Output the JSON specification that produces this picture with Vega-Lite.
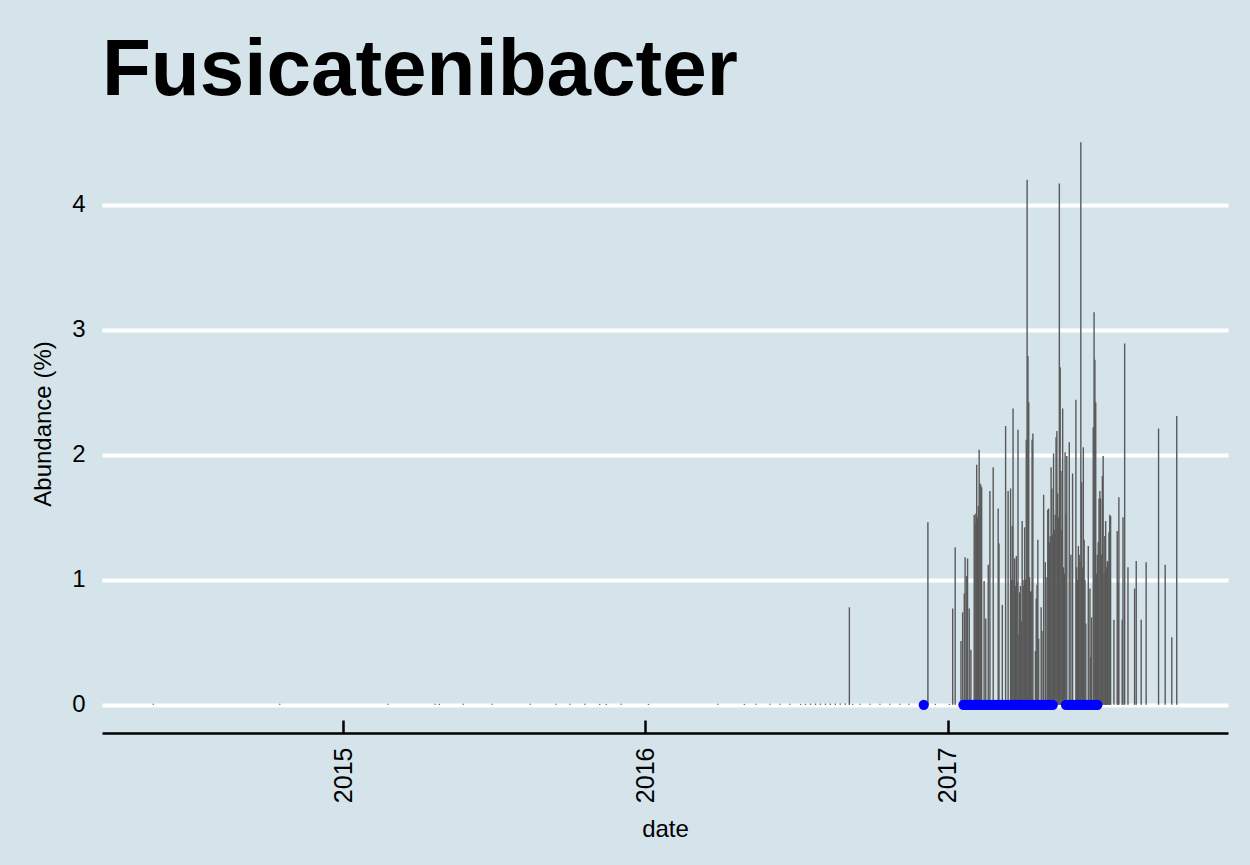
{
  "$schema": "https://vega.github.io/schema/vega-lite/v6.json",
  "width": 1126,
  "height": 619,
  "autosize": "none",
  "padding": {"left": 102, "top": 114, "right": 22, "bottom": 132},
  "background": "#d5e4eb",
  "title": {"text": "Fusicatenibacter", "anchor": "start", "frame": "group", "fontSize": 80, "fontWeight": "bold", "font": "Liberation Sans", "color": "#000000", "baseline": "alphabetic", "offset": -61},
  "config": {
    "view": {"stroke": null, "fill": "#d5e4eb"},
    "font": "Liberation Sans"
  },
  "datasets": {
    "bars": [
      {"date": "2014-05-16", "abundance": 0.008},
      {"date": "2014-10-16", "abundance": 0.008},
      {"date": "2015-02-24", "abundance": 0.008},
      {"date": "2015-04-22", "abundance": 0.008},
      {"date": "2015-04-27", "abundance": 0.008},
      {"date": "2015-05-26", "abundance": 0.008},
      {"date": "2015-06-30", "abundance": 0.008},
      {"date": "2015-08-15", "abundance": 0.008},
      {"date": "2015-09-15", "abundance": 0.008},
      {"date": "2015-10-02", "abundance": 0.008},
      {"date": "2015-10-20", "abundance": 0.008},
      {"date": "2015-11-07", "abundance": 0.008},
      {"date": "2015-11-15", "abundance": 0.008},
      {"date": "2015-12-03", "abundance": 0.008},
      {"date": "2016-01-05", "abundance": 0.008},
      {"date": "2016-03-29", "abundance": 0.008},
      {"date": "2016-04-30", "abundance": 0.008},
      {"date": "2016-05-14", "abundance": 0.008},
      {"date": "2016-05-31", "abundance": 0.008},
      {"date": "2016-06-12", "abundance": 0.008},
      {"date": "2016-06-24", "abundance": 0.008},
      {"date": "2016-07-07", "abundance": 0.008},
      {"date": "2016-07-13", "abundance": 0.008},
      {"date": "2016-07-19", "abundance": 0.01},
      {"date": "2016-07-25", "abundance": 0.01},
      {"date": "2016-07-31", "abundance": 0.01},
      {"date": "2016-08-06", "abundance": 0.01},
      {"date": "2016-08-12", "abundance": 0.01},
      {"date": "2016-08-18", "abundance": 0.01},
      {"date": "2016-08-24", "abundance": 0.01},
      {"date": "2016-08-30", "abundance": 0.01},
      {"date": "2016-09-04", "abundance": 0.78},
      {"date": "2016-09-08", "abundance": 0.008},
      {"date": "2016-09-17", "abundance": 0.008},
      {"date": "2016-09-29", "abundance": 0.008},
      {"date": "2016-10-11", "abundance": 0.008},
      {"date": "2016-10-23", "abundance": 0.008},
      {"date": "2016-11-04", "abundance": 0.008},
      {"date": "2016-11-15", "abundance": 0.008},
      {"date": "2016-12-08", "abundance": 1.46},
      {"date": "2016-12-17", "abundance": 0.008},
      {"date": "2017-01-03", "abundance": 0.008},
      {"date": "2017-01-07", "abundance": 0.77},
      {"date": "2017-01-10", "abundance": 1.26},
      {"date": "2017-01-17", "abundance": 0.51},
      {"date": "2017-01-19", "abundance": 0.74},
      {"date": "2017-01-21", "abundance": 0.89},
      {"date": "2017-01-22", "abundance": 1.18},
      {"date": "2017-01-24", "abundance": 1.03},
      {"date": "2017-01-25", "abundance": 1.17},
      {"date": "2017-01-27", "abundance": 0.77},
      {"date": "2017-01-29", "abundance": 0.44},
      {"date": "2017-02-02", "abundance": 1.52},
      {"date": "2017-02-03", "abundance": 1.45},
      {"date": "2017-02-04", "abundance": 1.53},
      {"date": "2017-02-05", "abundance": 1.92},
      {"date": "2017-02-06", "abundance": 1.50},
      {"date": "2017-02-07", "abundance": 1.59},
      {"date": "2017-02-08", "abundance": 2.04},
      {"date": "2017-02-09", "abundance": 1.77},
      {"date": "2017-02-10", "abundance": 1.76},
      {"date": "2017-02-11", "abundance": 1.74},
      {"date": "2017-02-14", "abundance": 0.99},
      {"date": "2017-02-16", "abundance": 0.69},
      {"date": "2017-02-19", "abundance": 1.12},
      {"date": "2017-02-21", "abundance": 1.71},
      {"date": "2017-02-25", "abundance": 1.90},
      {"date": "2017-03-03", "abundance": 1.57},
      {"date": "2017-03-04", "abundance": 1.29},
      {"date": "2017-03-08", "abundance": 0.80},
      {"date": "2017-03-12", "abundance": 2.23},
      {"date": "2017-03-15", "abundance": 1.71},
      {"date": "2017-03-18", "abundance": 1.73},
      {"date": "2017-03-19", "abundance": 1.00},
      {"date": "2017-03-20", "abundance": 1.43},
      {"date": "2017-03-21", "abundance": 2.37},
      {"date": "2017-03-22", "abundance": 1.00},
      {"date": "2017-03-23", "abundance": 1.17},
      {"date": "2017-03-24", "abundance": 0.95},
      {"date": "2017-03-25", "abundance": 1.19},
      {"date": "2017-03-26", "abundance": 0.98},
      {"date": "2017-03-27", "abundance": 2.20},
      {"date": "2017-03-28", "abundance": 0.56},
      {"date": "2017-03-29", "abundance": 0.90},
      {"date": "2017-03-30", "abundance": 0.95},
      {"date": "2017-03-31", "abundance": 0.67},
      {"date": "2017-04-01", "abundance": 1.47},
      {"date": "2017-04-02", "abundance": 1.00},
      {"date": "2017-04-03", "abundance": 0.95},
      {"date": "2017-04-04", "abundance": 1.42},
      {"date": "2017-04-05", "abundance": 1.00},
      {"date": "2017-04-06", "abundance": 2.12},
      {"date": "2017-04-07", "abundance": 4.20},
      {"date": "2017-04-08", "abundance": 2.79},
      {"date": "2017-04-09", "abundance": 2.42},
      {"date": "2017-04-10", "abundance": 1.02},
      {"date": "2017-04-11", "abundance": 0.90},
      {"date": "2017-04-12", "abundance": 0.91},
      {"date": "2017-04-13", "abundance": 2.12},
      {"date": "2017-04-14", "abundance": 2.17},
      {"date": "2017-04-17", "abundance": 0.43},
      {"date": "2017-04-18", "abundance": 0.85},
      {"date": "2017-04-19", "abundance": 0.96},
      {"date": "2017-04-20", "abundance": 1.32},
      {"date": "2017-04-21", "abundance": 0.53},
      {"date": "2017-04-24", "abundance": 0.78},
      {"date": "2017-04-25", "abundance": 0.59},
      {"date": "2017-04-27", "abundance": 1.68},
      {"date": "2017-04-29", "abundance": 1.14},
      {"date": "2017-05-01", "abundance": 1.02},
      {"date": "2017-05-02", "abundance": 1.56},
      {"date": "2017-05-03", "abundance": 1.57},
      {"date": "2017-05-04", "abundance": 1.30},
      {"date": "2017-05-05", "abundance": 1.35},
      {"date": "2017-05-06", "abundance": 1.90},
      {"date": "2017-05-07", "abundance": 1.73},
      {"date": "2017-05-08", "abundance": 1.36},
      {"date": "2017-05-09", "abundance": 2.01},
      {"date": "2017-05-10", "abundance": 1.40},
      {"date": "2017-05-11", "abundance": 1.52},
      {"date": "2017-05-12", "abundance": 2.14},
      {"date": "2017-05-13", "abundance": 2.19},
      {"date": "2017-05-14", "abundance": 1.69},
      {"date": "2017-05-15", "abundance": 1.50},
      {"date": "2017-05-16", "abundance": 4.17},
      {"date": "2017-05-17", "abundance": 2.70},
      {"date": "2017-05-18", "abundance": 1.87},
      {"date": "2017-05-19", "abundance": 1.40},
      {"date": "2017-05-20", "abundance": 2.37},
      {"date": "2017-05-21", "abundance": 1.10},
      {"date": "2017-05-22", "abundance": 1.05},
      {"date": "2017-05-23", "abundance": 2.02},
      {"date": "2017-05-24", "abundance": 1.52},
      {"date": "2017-05-25", "abundance": 1.99},
      {"date": "2017-05-28", "abundance": 2.10},
      {"date": "2017-05-30", "abundance": 1.20},
      {"date": "2017-06-01", "abundance": 1.85},
      {"date": "2017-06-05", "abundance": 2.44},
      {"date": "2017-06-06", "abundance": 1.10},
      {"date": "2017-06-07", "abundance": 1.00},
      {"date": "2017-06-08", "abundance": 1.27},
      {"date": "2017-06-09", "abundance": 1.20},
      {"date": "2017-06-10", "abundance": 1.14},
      {"date": "2017-06-11", "abundance": 4.50},
      {"date": "2017-06-12", "abundance": 1.78},
      {"date": "2017-06-13", "abundance": 1.10},
      {"date": "2017-06-14", "abundance": 2.06},
      {"date": "2017-06-15", "abundance": 1.32},
      {"date": "2017-06-16", "abundance": 1.00},
      {"date": "2017-06-17", "abundance": 0.65},
      {"date": "2017-06-20", "abundance": 1.27},
      {"date": "2017-06-22", "abundance": 0.93},
      {"date": "2017-06-23", "abundance": 0.38},
      {"date": "2017-06-24", "abundance": 0.70},
      {"date": "2017-06-26", "abundance": 2.22},
      {"date": "2017-06-27", "abundance": 3.14},
      {"date": "2017-06-28", "abundance": 2.76},
      {"date": "2017-06-29", "abundance": 2.42},
      {"date": "2017-06-30", "abundance": 1.05},
      {"date": "2017-07-01", "abundance": 1.20},
      {"date": "2017-07-02", "abundance": 1.30},
      {"date": "2017-07-03", "abundance": 1.65},
      {"date": "2017-07-04", "abundance": 1.71},
      {"date": "2017-07-05", "abundance": 1.65},
      {"date": "2017-07-06", "abundance": 1.20},
      {"date": "2017-07-07", "abundance": 1.83},
      {"date": "2017-07-08", "abundance": 1.99},
      {"date": "2017-07-09", "abundance": 1.05},
      {"date": "2017-07-10", "abundance": 1.35},
      {"date": "2017-07-11", "abundance": 1.47},
      {"date": "2017-07-12", "abundance": 1.10},
      {"date": "2017-07-13", "abundance": 1.15},
      {"date": "2017-07-14", "abundance": 1.14},
      {"date": "2017-07-15", "abundance": 1.38},
      {"date": "2017-07-16", "abundance": 1.52},
      {"date": "2017-07-17", "abundance": 1.51},
      {"date": "2017-07-21", "abundance": 0.68},
      {"date": "2017-07-25", "abundance": 1.39},
      {"date": "2017-07-26", "abundance": 0.98},
      {"date": "2017-07-27", "abundance": 1.66},
      {"date": "2017-07-31", "abundance": 0.68},
      {"date": "2017-08-01", "abundance": 1.50},
      {"date": "2017-08-03", "abundance": 2.89},
      {"date": "2017-08-07", "abundance": 1.10},
      {"date": "2017-08-15", "abundance": 0.93},
      {"date": "2017-08-17", "abundance": 1.15},
      {"date": "2017-08-23", "abundance": 0.68},
      {"date": "2017-08-29", "abundance": 1.14},
      {"date": "2017-09-13", "abundance": 2.21},
      {"date": "2017-09-21", "abundance": 1.12},
      {"date": "2017-09-29", "abundance": 0.54},
      {"date": "2017-10-05", "abundance": 2.31}
    ],
    "pts": [
      {"date": "2016-12-03", "abundance": 0},
      {"date": "2017-01-20", "abundance": 0},
      {"date": "2017-01-23", "abundance": 0},
      {"date": "2017-01-26", "abundance": 0},
      {"date": "2017-01-29", "abundance": 0},
      {"date": "2017-02-01", "abundance": 0},
      {"date": "2017-02-04", "abundance": 0},
      {"date": "2017-02-07", "abundance": 0},
      {"date": "2017-02-10", "abundance": 0},
      {"date": "2017-02-13", "abundance": 0},
      {"date": "2017-02-16", "abundance": 0},
      {"date": "2017-02-19", "abundance": 0},
      {"date": "2017-02-22", "abundance": 0},
      {"date": "2017-02-25", "abundance": 0},
      {"date": "2017-02-28", "abundance": 0},
      {"date": "2017-03-03", "abundance": 0},
      {"date": "2017-03-06", "abundance": 0},
      {"date": "2017-03-09", "abundance": 0},
      {"date": "2017-03-12", "abundance": 0},
      {"date": "2017-03-15", "abundance": 0},
      {"date": "2017-03-18", "abundance": 0},
      {"date": "2017-03-21", "abundance": 0},
      {"date": "2017-03-24", "abundance": 0},
      {"date": "2017-03-27", "abundance": 0},
      {"date": "2017-03-30", "abundance": 0},
      {"date": "2017-04-02", "abundance": 0},
      {"date": "2017-04-05", "abundance": 0},
      {"date": "2017-04-08", "abundance": 0},
      {"date": "2017-04-11", "abundance": 0},
      {"date": "2017-04-14", "abundance": 0},
      {"date": "2017-04-17", "abundance": 0},
      {"date": "2017-04-20", "abundance": 0},
      {"date": "2017-04-23", "abundance": 0},
      {"date": "2017-04-26", "abundance": 0},
      {"date": "2017-04-29", "abundance": 0},
      {"date": "2017-05-02", "abundance": 0},
      {"date": "2017-05-05", "abundance": 0},
      {"date": "2017-05-08", "abundance": 0},
      {"date": "2017-05-24", "abundance": 0},
      {"date": "2017-05-27", "abundance": 0},
      {"date": "2017-05-30", "abundance": 0},
      {"date": "2017-06-02", "abundance": 0},
      {"date": "2017-06-05", "abundance": 0},
      {"date": "2017-06-08", "abundance": 0},
      {"date": "2017-06-11", "abundance": 0},
      {"date": "2017-06-14", "abundance": 0},
      {"date": "2017-06-17", "abundance": 0},
      {"date": "2017-06-20", "abundance": 0},
      {"date": "2017-06-23", "abundance": 0},
      {"date": "2017-06-26", "abundance": 0},
      {"date": "2017-06-29", "abundance": 0},
      {"date": "2017-07-01", "abundance": 0}
    ]
  },
  "layer": [
    {
      "data": {"name": "bars"},
      "mark": {"type": "rule", "color": "#595959", "strokeWidth": 1.4},
      "encoding": {
        "x": {
          "field": "date", "type": "temporal",
          "scale": {"domain": ["2014-03-15", "2017-12-06"]},
          "axis": {
            "values": [{"year": 2015, "month": 1, "date": 1}, {"year": 2016, "month": 1, "date": 1}, {"year": 2017, "month": 1, "date": 1}],
            "format": "%Y", "labelAngle": -90, "grid": false,
            "domainColor": "#000000", "domainWidth": 2.5,
            "tickColor": "#000000", "tickWidth": 2.5, "tickSize": -13,
            "labelFontSize": 25, "labelColor": "#000000", "labelPadding": 27,
            "title": "date", "titleFontSize": 24, "titleFontWeight": "normal", "titleColor": "#000000", "titlePadding": 15
          }
        },
        "y": {
          "field": "abundance", "type": "quantitative",
          "scale": {"domain": [-0.225, 4.725], "nice": false, "zero": false},
          "axis": {
            "values": [0, 1, 2, 3, 4], "format": "d", "domain": false, "ticks": false,
            "grid": true, "gridColor": "#ffffff", "gridWidth": 4,
            "labelFontSize": 24, "labelColor": "#000000", "labelPadding": 17,
            "title": "Abundance (%)", "titleFontSize": 24, "titleFontWeight": "normal", "titleColor": "#000000", "titlePadding": 16
          }
        },
        "y2": {"datum": 0}
      }
    },
    {
      "data": {"name": "pts"},
      "mark": {"type": "circle", "color": "#0000ff", "size": 105, "opacity": 1},
      "encoding": {
        "x": {"field": "date", "type": "temporal"},
        "y": {"field": "abundance", "type": "quantitative"}
      }
    }
  ]
}
